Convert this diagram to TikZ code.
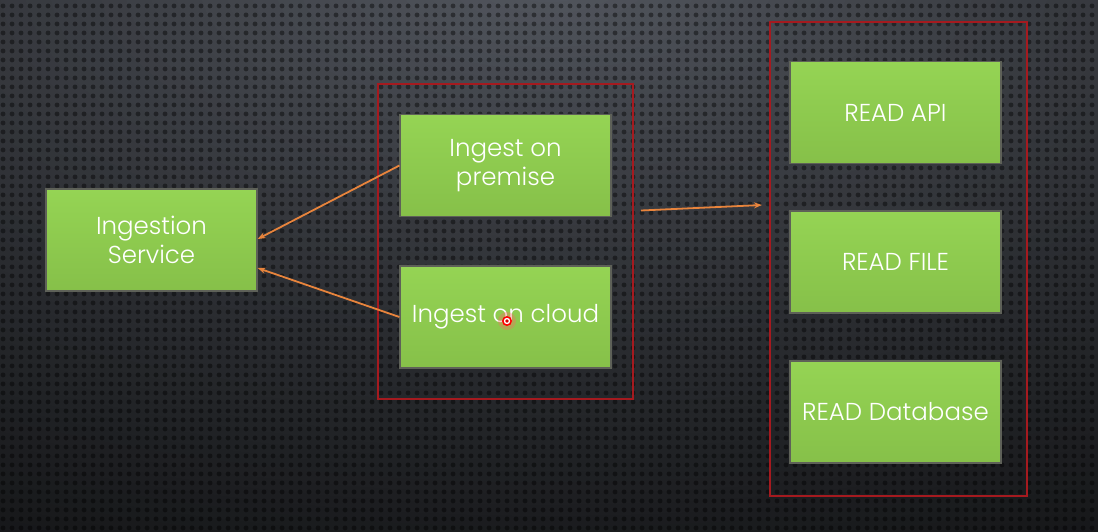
\documentclass[tikz,border=0pt]{standalone}
\usepackage{fontspec}
\setmainfont{Poppins Light}
\usetikzlibrary{arrows.meta,patterns.meta}
\definecolor{bgA}{HTML}{53575F}
\definecolor{bgE}{HTML}{141517}
\definecolor{greenT}{HTML}{95D454}
\definecolor{greenB}{HTML}{86C049}
\definecolor{boxborder}{HTML}{5E6158}
\definecolor{redc}{HTML}{A51A1F}
\definecolor{orangec}{HTML}{E8843C}
\tikzdeclarepattern{
  name=bgdots,
  type=uncolored,
  bounding box={(0pt,0pt) and (9pt,9pt)},
  tile size={(9pt,9pt)},
  code={\fill (4.5pt,4.5pt) circle (2.7pt);}
}
\tikzset{
  gbox/.style={draw=boxborder, line width=1.2pt, top color=greenT, bottom color=greenB,
    minimum width=211pt, minimum height=102pt, text=white, align=center, inner sep=0pt,
    font=\fontsize{24.5}{29}\selectfont},
  redbox/.style={draw=redc, line width=2pt, inner sep=0pt},
  arr/.style={draw=orangec, line width=1.8pt, -{Stealth[length=8pt,width=6pt]}}
}
\begin{document}
\begin{tikzpicture}[x=1pt,y=-1pt]
\useasboundingbox (0,0) rectangle (1098,531);
\begin{scope}
  \clip (0,0) rectangle (1098,531);
  \fill[bgE] (0,0) rectangle (1098,531);
  \foreach \k in {60,59,...,1}{
    \pgfmathsetmacro{\f}{\k/60}
    \pgfmathsetmacro{\p}{100*(1-\f)^1.3}
    \fill[bgA!\p!bgE] (549,-20) ellipse [x radius={1500*\f}, y radius={670*\f}];
  }
  \fill[pattern=bgdots, pattern color=black, fill opacity=0.42] (0,0) rectangle (1098,531);
\end{scope}
% groups
\node[redbox, minimum width=255pt, minimum height=315pt] (grpA) at (505.5,241.5) {};
\node[redbox, minimum width=257pt, minimum height=474pt] (grpB) at (898.5,259) {};
% boxes
\node[gbox] (svc) at (151.5,240) {Ingestion\\Service};
\node[gbox] (prem) at (505.5,165.5) {Ingest on\\premise};
\node[gbox] (cloud) at (505.5,317) {Ingest on cloud};
\node[gbox] (api) at (895.5,112.5) {READ API};
\node[gbox] (file) at (895.5,262) {READ FILE};
\node[gbox] (db) at (895.5,412) {READ Database};
% arrows
\draw[arr] (prem.west) -- ([yshift=1pt]svc.east);
\draw[arr] (cloud.west) -- ([yshift=-28pt]svc.east);
\coordinate (a3s) at ([xshift=7pt,yshift=31pt]grpA.east);
\coordinate (a3e) at ([xshift=-7pt,yshift=54pt]grpB.west);
\draw[arr] (a3s) -- (a3e);
% pointer
\fill[red!60, opacity=0.35] (507,321) circle (9);
\fill[red] (507,321) circle (5);
\fill[white] (507,321) circle (3.2);
\fill[red!85!black] (507,321) circle (1.8);
\end{tikzpicture}
\end{document}
